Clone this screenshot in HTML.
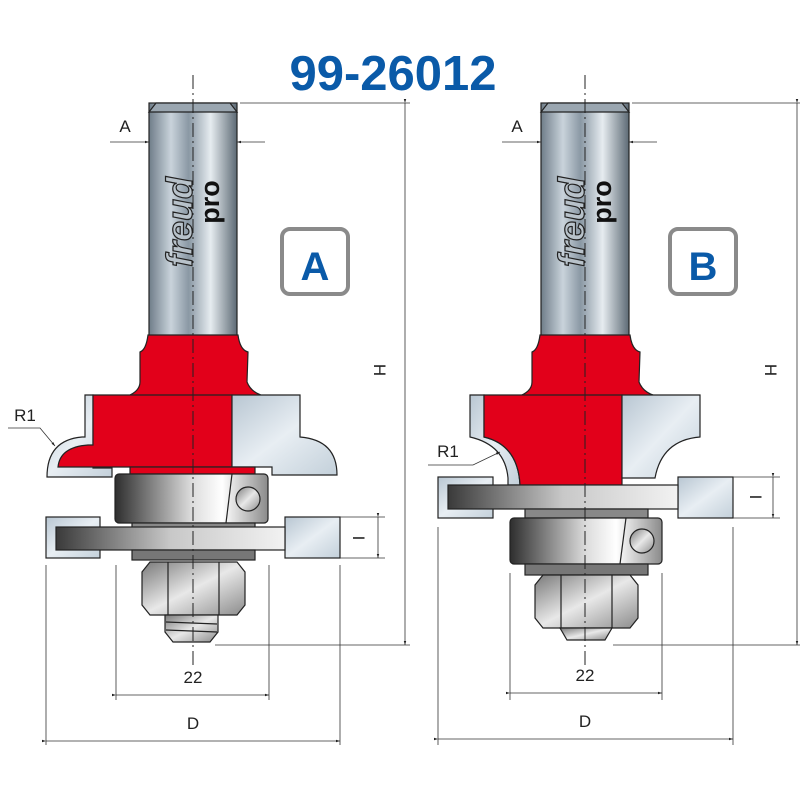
<!DOCTYPE html>
<html><head><meta charset="utf-8"><style>html,body{margin:0;padding:0;background:#fff}svg{display:block}</style></head>
<body>
<svg width="800" height="800" viewBox="0 0 800 800" xmlns="http://www.w3.org/2000/svg" font-family="Liberation Sans, sans-serif">
<defs>
<linearGradient id="sh" x1="0" x2="1" y1="0" y2="0">
<stop offset="0" stop-color="#6f7d89"/><stop offset="0.25" stop-color="#c9d3db"/><stop offset="0.45" stop-color="#8a98a4"/><stop offset="0.7" stop-color="#e6ecf0"/><stop offset="1" stop-color="#5d6a75"/></linearGradient>
<linearGradient id="br" x1="0" x2="1" y1="0" y2="0">
<stop offset="0" stop-color="#2e2e2e"/><stop offset="0.5" stop-color="#dcdcdc"/><stop offset="0.7" stop-color="#ffffff"/><stop offset="1" stop-color="#8a8a8a"/></linearGradient>
<linearGradient id="bar" x1="0" x2="1" y1="0" y2="0">
<stop offset="0" stop-color="#3a3a3a"/><stop offset="0.5" stop-color="#c8c8c8"/><stop offset="1" stop-color="#f2f2f2"/></linearGradient>
<linearGradient id="lb" x1="0" x2="1" y1="0" y2="1">
<stop offset="0" stop-color="#b8c6d2"/><stop offset="0.5" stop-color="#e8eef3"/><stop offset="1" stop-color="#c3d0da"/></linearGradient>
<linearGradient id="nut" x1="0" x2="1" y1="0" y2="1">
<stop offset="0" stop-color="#7a7a7a"/><stop offset="0.5" stop-color="#e8e8e8"/><stop offset="1" stop-color="#8c8c8c"/></linearGradient>
<marker id="ar" viewBox="0 0 10 10" refX="10" refY="5" markerWidth="7" markerHeight="5" orient="auto"><path d="M0,2 L10,5 L0,8 Z" fill="#222"/></marker>
</defs>

<text x="393" y="90" text-anchor="middle" font-size="49" font-weight="bold" fill="#0a5aa8">99-26012</text>

<!-- ===== TOOL A ===== -->
<g stroke="#222" stroke-width="1.2">
<rect x="149" y="103" width="88" height="240" fill="url(#sh)"/>
<path d="M149,112 L156,103 L230,103 L237,112 Z" fill="#9aa6b0"/>
<path d="M148,335 L238,335 Q240,350 248,352 L247,382 Q252,395 270,397 L125,397 Q140,392 140,382 L140,352 Q146,350 148,335 Z" fill="#e2001a"/>
<path d="M85,395 L93,395 L93,468 L112,468 L112,477 L47,477 Q47,440 82,437 L85,437 Z" fill="url(#lb)"/>
<path d="M93,395 L232,395 L232,467 L58,467 Q60,447 88,445 L93,445 Z" fill="#e2001a"/>
<path d="M232,395 L300,395 L300,437 Q337,440 337,475 L272,475 L272,467 L232,467 Z" fill="url(#lb)"/>
<rect x="130" y="467" width="125" height="7" fill="#e2001a"/>
<rect x="115" y="474" width="153" height="49" rx="4" fill="url(#br)"/>
<path d="M232,474 L226,523" fill="none"/>
<circle cx="248" cy="499" r="12" fill="url(#nut)"/>
<rect x="132" y="523" width="123" height="8" fill="#888"/>
<rect x="46" y="517" width="54" height="41" fill="url(#lb)"/>
<rect x="285" y="517" width="55" height="41" fill="url(#lb)"/>
<rect x="56" y="527" width="229" height="23" fill="url(#bar)"/>
<rect x="132" y="550" width="123" height="10" fill="#777"/>
<path d="M150,562 L237,562 L245,572 L245,605 L237,615 L150,615 L142,605 L142,572 Z" fill="url(#nut)"/>
<path d="M168,562 L168,615 M219,562 L219,615" fill="none"/>
<path d="M165,615 L218,615 L218,632 L210,642 L173,642 L165,632 Z" fill="url(#nut)"/>
<path d="M166,622 L217,624 M166,630 L217,632" fill="none"/>
</g>
<text transform="translate(192,222) rotate(-90)" font-size="36" font-weight="bold" font-style="italic" fill="#b8c2ca" stroke="#222" stroke-width="1.2" text-anchor="middle">freud</text>
<text transform="translate(219,202) rotate(-90)" font-size="27" font-weight="bold" fill="#111" text-anchor="middle">pro</text>
<line x1="193" y1="75" x2="193" y2="665" stroke="#222" stroke-width="1" stroke-dasharray="14,4,2,4"/>

<rect x="282" y="229" width="66" height="65" rx="8" fill="#fff" stroke="#8a8a8a" stroke-width="4"/>
<text x="315" y="280" text-anchor="middle" font-size="40" font-weight="bold" fill="#0a5aa8">A</text>

<g stroke="#333" stroke-width="0.8" fill="none">
<line x1="240" y1="103" x2="410" y2="103"/>
<line x1="215" y1="645" x2="410" y2="645"/>
<line x1="405" y1="103" x2="405" y2="645" marker-start="url(#ar)" marker-end="url(#ar)"/>
<line x1="110" y1="142" x2="149" y2="142" marker-end="url(#ar)"/>
<line x1="265" y1="142" x2="237" y2="142" marker-end="url(#ar)"/>
<line x1="340" y1="517" x2="385" y2="517"/><line x1="340" y1="558" x2="385" y2="558"/>
<line x1="378" y1="517" x2="378" y2="558" marker-start="url(#ar)" marker-end="url(#ar)"/>
<line x1="116" y1="565" x2="116" y2="700"/><line x1="269" y1="565" x2="269" y2="700"/>
<line x1="116" y1="695" x2="269" y2="695" marker-start="url(#ar)" marker-end="url(#ar)"/>
<line x1="46" y1="565" x2="46" y2="745"/><line x1="340" y1="565" x2="340" y2="745"/>
<line x1="46" y1="741" x2="340" y2="741" marker-start="url(#ar)" marker-end="url(#ar)"/>
<path d="M8,428 L40,428 L55,446" marker-end="url(#ar)"/>
</g>
<g font-size="17" fill="#222">
<text x="125" y="132" text-anchor="middle">A</text>
<text x="25" y="421" text-anchor="middle">R1</text>
<text x="193" y="683" text-anchor="middle">22</text>
<text x="193" y="729" text-anchor="middle">D</text>
<text transform="translate(374,370) rotate(90)" text-anchor="middle">H</text>
<text transform="translate(353,538) rotate(90)" text-anchor="middle">I</text>
</g>

<!-- ===== TOOL B ===== -->
<g stroke="#222" stroke-width="1.2">
<rect x="541" y="103" width="88" height="240" fill="url(#sh)"/>
<path d="M541,112 L548,103 L622,103 L629,112 Z" fill="#9aa6b0"/>
<path d="M540,335 L630,335 Q632,350 640,352 L639,382 Q644,395 662,397 L517,397 Q532,392 532,382 L532,352 Q538,350 540,335 Z" fill="#e2001a"/>
<path d="M470,395 L484,395 L484,437 Q518,445 520,485 L508,485 L508,478 Q505,445 470,437 Z" fill="url(#lb)"/>
<path d="M484,395 L622,395 L622,485 L520,485 Q518,445 484,437 Z" fill="#e2001a"/>
<path d="M622,395 L700,395 L700,437 Q662,440 655,478 L622,478 Z" fill="url(#lb)"/>
<rect x="438" y="477" width="55" height="41" fill="url(#lb)"/>
<rect x="678" y="477" width="55" height="41" fill="url(#lb)"/>
<rect x="448" y="485" width="230" height="24" fill="url(#bar)"/>
<rect x="525" y="509" width="123" height="9" fill="#888"/>
<rect x="510" y="518" width="152" height="46" rx="4" fill="url(#br)"/>
<path d="M626,518 L620,564" fill="none"/>
<circle cx="642" cy="541" r="12" fill="url(#nut)"/>
<rect x="525" y="564" width="123" height="11" fill="#777"/>
<path d="M543,575 L630,575 L638,585 L638,618 L630,628 L543,628 L535,618 L535,585 Z" fill="url(#nut)"/>
<path d="M561,575 L561,628 M612,575 L612,628" fill="none"/>
<path d="M560,628 L612,628 L605,640 L567,640 Z" fill="url(#nut)"/>
</g>
<text transform="translate(584,222) rotate(-90)" font-size="36" font-weight="bold" font-style="italic" fill="#b8c2ca" stroke="#222" stroke-width="1.2" text-anchor="middle">freud</text>
<text transform="translate(611,202) rotate(-90)" font-size="27" font-weight="bold" fill="#111" text-anchor="middle">pro</text>
<line x1="585" y1="75" x2="585" y2="665" stroke="#222" stroke-width="1" stroke-dasharray="14,4,2,4"/>

<rect x="670" y="229" width="66" height="65" rx="8" fill="#fff" stroke="#8a8a8a" stroke-width="4"/>
<text x="703" y="280" text-anchor="middle" font-size="40" font-weight="bold" fill="#0a5aa8">B</text>

<g stroke="#333" stroke-width="0.8" fill="none">
<line x1="632" y1="103" x2="800" y2="103"/>
<line x1="613" y1="645" x2="800" y2="645"/>
<line x1="797" y1="103" x2="797" y2="645" marker-start="url(#ar)" marker-end="url(#ar)"/>
<line x1="502" y1="142" x2="541" y2="142" marker-end="url(#ar)"/>
<line x1="657" y1="142" x2="629" y2="142" marker-end="url(#ar)"/>
<line x1="733" y1="477" x2="780" y2="477"/><line x1="733" y1="518" x2="780" y2="518"/>
<line x1="773" y1="477" x2="773" y2="518" marker-start="url(#ar)" marker-end="url(#ar)"/>
<line x1="510" y1="573" x2="510" y2="700"/><line x1="662" y1="573" x2="662" y2="700"/>
<line x1="510" y1="693" x2="662" y2="693" marker-start="url(#ar)" marker-end="url(#ar)"/>
<line x1="438" y1="527" x2="438" y2="745"/><line x1="733" y1="527" x2="733" y2="745"/>
<line x1="438" y1="739" x2="733" y2="739" marker-start="url(#ar)" marker-end="url(#ar)"/>
<path d="M428,465 L473,465 L500,452" marker-end="url(#ar)"/>
</g>
<g font-size="17" fill="#222">
<text x="517" y="132" text-anchor="middle">A</text>
<text x="448" y="457" text-anchor="middle">R1</text>
<text x="585" y="681" text-anchor="middle">22</text>
<text x="585" y="727" text-anchor="middle">D</text>
<text transform="translate(765,370) rotate(90)" text-anchor="middle">H</text>
<text transform="translate(750,497) rotate(90)" text-anchor="middle">I</text>
</g>
</svg>
</body></html>
